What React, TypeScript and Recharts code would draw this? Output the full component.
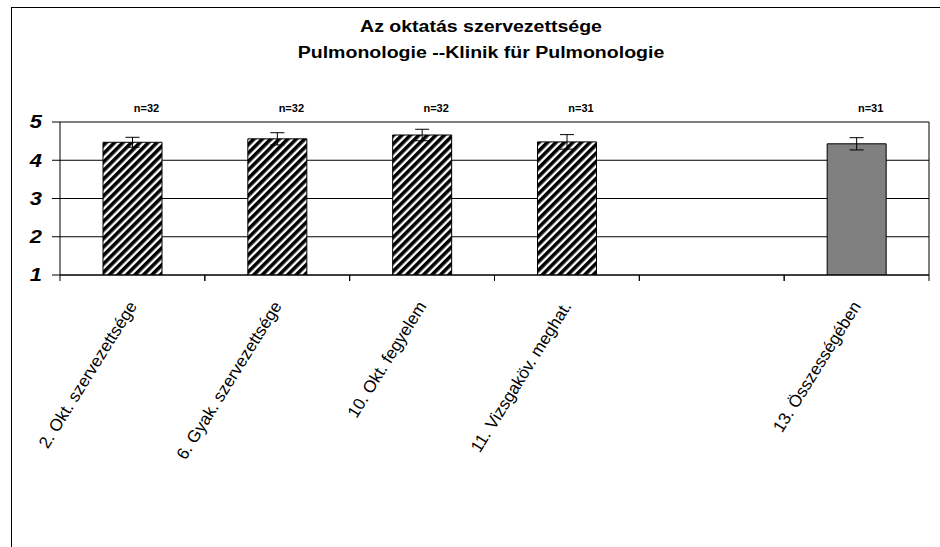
import React from "react";
import {
  BarChart,
  Bar,
  XAxis,
  YAxis,
  CartesianGrid,
  ErrorBar,
  LabelList,
  Cell,
} from "recharts";

const categories = [
  "2. Okt. szervezettsége",
  "6. Gyak. szervezettsége",
  "10. Okt. fegyelem",
  "11. Vizsgaköv. meghat.",
  "",
  "13. Összességében",
];
const means: (number | null)[] = [4.47, 4.56, 4.66, 4.48, null, 4.43];
const errors: (number | null)[] = [0.13, 0.16, 0.15, 0.19, null, 0.16];
const nLabels = ["n=32", "n=32", "n=32", "n=31", "", "n=31"];
const yTicks = [1, 2, 3, 4, 5];

const data = categories.map((c, i) => ({
  cat: c,
  mean: means[i],
  err: errors[i],
  n: nLabels[i],
}));

const FONT = "Arial, 'Liberation Sans', sans-serif";
const TICK = 6;

const CatTick = (props: any) => {
  const { x, y, payload } = props;
  if (!payload) return null;
  const off = payload.offset || 0;
  const axisY = y - TICK;
  return (
    <g>
      <line x1={x - off} x2={x - off} y1={axisY} y2={axisY + TICK} stroke="#000" />
      <line x1={x + off} x2={x + off} y1={axisY} y2={axisY + TICK} stroke="#000" />
      {payload.value ? (
        <text
          transform={`translate(${x + 5},${y + 25}) rotate(-58)`}
          textAnchor="end"
          fontFamily={FONT}
          fontSize={17}
          fill="#000"
        >
          {payload.value}
        </text>
      ) : null}
    </g>
  );
};

const YTick = (props: any) => {
  const { x, y, payload } = props;
  return (
    <text
      transform={`translate(${x},${y}) scale(1.22,1)`}
      dy="0.36em"
      textAnchor="end"
      fontFamily={FONT}
      fontSize={18}
      fontWeight="bold"
      fontStyle="italic"
      fill="#000"
    >
      {payload.value}
    </text>
  );
};

const NLabel = (props: any) => {
  const { x, y, width, height, value } = props;
  if (!value) return null;
  const [label, meanStr] = String(value).split("|");
  const v = Number(meanStr);
  if (!label || !isFinite(v)) return null;
  const unit = height / (v - 1);
  const y5 = y + height - 4 * unit;
  return (
    <text
      x={x + width / 2 + 14}
      y={y5 - 10}
      textAnchor="middle"
      fontFamily={FONT}
      fontSize={11}
      fontWeight="bold"
      fill="#000"
    >
      {label}
    </text>
  );
};

export default function App() {
  const lastIndex = data.length - 1;
  return (
    <div
      style={{
        position: "absolute",
        left: 0,
        top: 0,
        width: 940,
        height: 547,
        overflow: "hidden",
        background: "#fff",
      }}
    >
      <svg width={0} height={0} style={{ position: "absolute" }}>
        <defs>
          <pattern
            id="hatch"
            patternUnits="userSpaceOnUse"
            width={6}
            height={6}
            patternTransform="rotate(45)"
          >
            <rect x={0} y={0} width={6} height={6} fill="#fff" />
            <rect x={0} y={0} width={3.6} height={6} fill="#000" />
          </pattern>
        </defs>
      </svg>
      <div
        style={{
          position: "absolute",
          left: 11,
          top: 7,
          width: 929,
          height: 540,
          borderLeft: "1px solid #000",
          borderTop: "1px solid #000",
          boxSizing: "border-box",
        }}
      />
      <div
        style={{
          position: "absolute",
          left: 0,
          width: 962,
          top: 14,
          textAlign: "center",
          fontFamily: FONT,
          fontWeight: "bold",
          fontSize: 16,
          lineHeight: "26px",
          color: "#000",
        }}
      >
        <div style={{ transform: "scaleX(1.22)" }}>Az oktatás szervezettsége</div>
        <div style={{ transform: "scaleX(1.22)" }}>
          Pulmonologie --Klinik für Pulmonologie
        </div>
      </div>
      <div style={{ position: "absolute", left: 0, top: 0 }}>
        <BarChart
          width={940}
          height={547}
          data={data}
          margin={{ top: 122, right: 11, bottom: 0, left: 0 }}
          barSize={59}
        >
          <CartesianGrid
            stroke="#000"
            strokeWidth={1}
            horizontalValues={yTicks}
            verticalCoordinatesGenerator={({ offset }: any) => [
              offset.left + offset.width,
            ]}
          />
          <XAxis
            dataKey="cat"
            height={272}
            tickLine={false}
            tickSize={TICK}
            tickMargin={0}
            axisLine={{ stroke: "#000" }}
            tick={<CatTick />}
            interval={0}
          />
          <YAxis
            domain={[1, 5]}
            ticks={yTicks}
            width={60}
            tickSize={8}
            tickMargin={10}
            tickLine={{ stroke: "#000" }}
            axisLine={{ stroke: "#000" }}
            tick={<YTick />}
            allowDataOverflow
          />
          <Bar
            dataKey="mean"
            stroke="#000"
            strokeWidth={1}
            isAnimationActive={false}
          >
            {data.map((d, i) => (
              <Cell
                key={i}
                fill={i === lastIndex ? "#808080" : "url(#hatch)"}
              />
            ))}
            <ErrorBar
              dataKey="err"
              width={7}
              stroke="#000"
              strokeWidth={1}
              direction="y"
              isAnimationActive={false}
            />
            <LabelList
              dataKey={(d: any) => `${d.n}|${d.mean}`}
              content={<NLabel />}
            />
          </Bar>
        </BarChart>
      </div>
    </div>
  );
}
